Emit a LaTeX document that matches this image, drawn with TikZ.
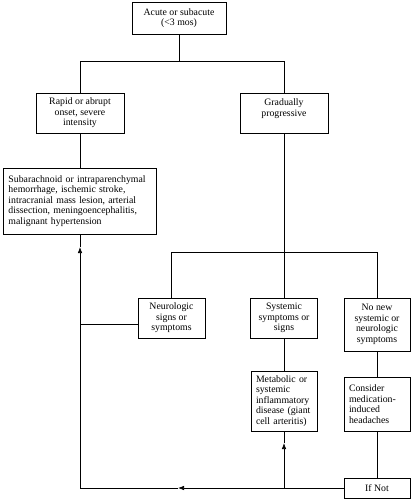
\documentclass[tikz,border=0pt]{standalone}
\usepackage{fontspec}
\setmainfont{Liberation Serif}
\usetikzlibrary{arrows.meta}
\begin{document}
\begin{tikzpicture}[x=1pt,y=-1pt,
  box/.style={draw, line width=0.7pt, inner ysep=0pt, font=\fontsize{9.8}{10.5}\selectfont},
  cbox/.style={box, align=center, inner xsep=0pt},
  lbox/.style={box, align=left, inner xsep=5pt},
  conn/.style={line width=0.7pt},
  tip/.style={conn, -{Latex[length=6pt,width=4.5pt]}}
]
\useasboundingbox (0,0) rectangle (415,500);
\fill[white] (0,0) rectangle (415,500);

\node[cbox, minimum width=94pt, minimum height=32pt] (top) at (179,18) {Acute or subacute\\(<3 mos)};
\node[cbox, minimum width=88pt, minimum height=40pt] (rapid) at (80,113) {Rapid or abrupt\\onset, severe\\intensity};
\node[cbox, minimum width=88pt, minimum height=40pt] (grad) at (284,113) {Gradually\\progressive\\\mbox{}};
\node[lbox, text width=143pt, minimum height=66pt] (sub) at (80,201) {Subarachnoid or intraparenchymal\\hemorrhage, ischemic stroke,\\intracranial mass lesion, arterial\\dissection, meningoencephalitis,\\malignant hypertension};
\node[cbox, minimum width=67pt, minimum height=40pt] (neuro) at (171.5,318) {Neurologic\\signs or\\symptoms};
\node[cbox, minimum width=67pt, minimum height=40pt] (sys) at (284,318) {Systemic\\symptoms or\\signs};
\node[cbox, minimum width=66pt, minimum height=53pt] (nonew) at (377,324.5) {No new\\systemic or\\neurologic\\symptoms};
\node[lbox, text width=56pt, minimum height=60pt] (meta) at (284,401) {Metabolic or\\systemic\\inflammatory\\\mbox{disease (giant}\\cell arteritis)};
\node[lbox, text width=56pt, minimum height=54pt] (cons) at (377,404) {Consider\\\mbox{medication-}\\induced\\headaches};
\node[cbox, minimum width=66pt, minimum height=20pt] (ifnot) at (377,488) {If Not};

\coordinate (corner) at (80,488);
\coordinate (bj) at (284,488);
\coordinate (abot) at (178,488);
\coordinate (aleft) at (80,247);
\coordinate (ameta) at (284,443);
\coordinate (nl) at (80,324);

\draw[conn] (top.south) -- ++(0,27) coordinate (j0);
\draw[conn] (rapid.north) |- (j0) -| (grad.north);
\draw[conn] (rapid.south) -- (sub.north);
\draw[conn] (grad.south) -- ++(0,119) coordinate (j1);
\draw[conn] (neuro.north) |- (j1) -| (nonew.north);
\draw[conn] (j1) -- (sys.north);
\draw[conn] (sys.south) -- (meta.north);
\draw[conn] (nonew.south) -- (cons.north);
\draw[conn] (cons.south) -- (ifnot.north);
\draw[conn] (nl -| neuro.west) -- (nl);
\draw[tip] (ifnot.west) -- (abot);
\draw[conn] (abot) -- (corner);
\draw[tip] (corner) -- (aleft);
\draw[conn] (aleft) -- (sub.south);
\draw[tip] (bj) -- (ameta);
\draw[conn] (ameta) -- (meta.south);
\end{tikzpicture}
\end{document}
